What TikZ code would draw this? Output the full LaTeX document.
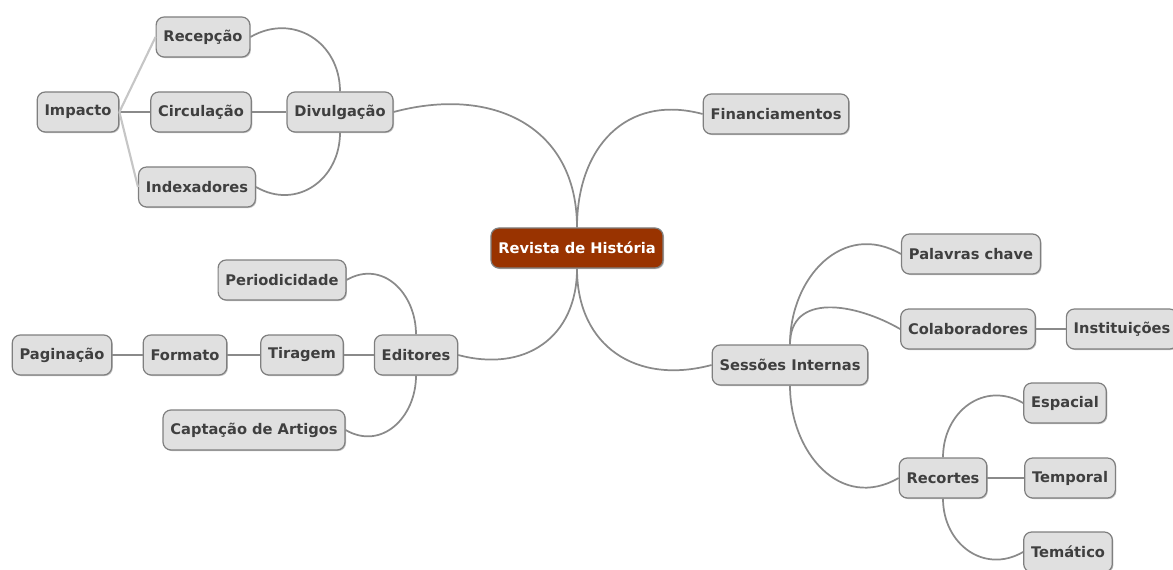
\documentclass[tikz,border=0pt]{standalone}
\usepackage{fontspec}
\setmainfont{DejaVu Sans}
\usetikzlibrary{%
  shadows,% wg. drop shadow
  positioning%
}
\definecolor{boxfill}{HTML}{E0E0E0}
\definecolor{boxline}{HTML}{7F7F7F}
\definecolor{linkgray}{HTML}{8A8A8A}
\definecolor{lightlink}{HTML}{C6C6C6}
\definecolor{rootred}{HTML}{993300}
\definecolor{txtgray}{HTML}{3F3F3F}

\begin{document}
\begin{tikzpicture}[
  x=0.75pt, y=0.75pt,
  font=\fontsize{11}{13}\selectfont\bfseries,
  topic/.style={draw=boxline, fill=boxfill, text=txtgray,
    rounded corners=6pt, line width=0.9pt,
    minimum height=30pt, inner xsep=5.5pt,
    drop shadow={shadow xshift=0.8pt, shadow yshift=-0.8pt,
      fill=black!40, opacity=0.6}},
  roottopic/.style={topic, fill=rootred, text=white},
  branch/.style={draw=linkgray, line width=1.3pt},
  sidebranch/.style={draw=lightlink, line width=1.6pt},
]

\useasboundingbox (0,0) rectangle (1173,-570);

% centre
\node[roottopic] (rev) at (577,-248) {Revista de História};

% upper left
\node[topic] (div) at (340,-112) {Divulgação};
\node[topic] (rec) at (203,-37)  {Recepção};
\node[topic] (cir) at (201,-112) {Circulação};
\node[topic] (ind) at (197,-187) {Indexadores};
\node[topic] (imp) at (78,-112)  {Impacto};

% upper right
\node[topic] (fin) at (776,-114) {Financiamentos};

% lower left
\node[topic] (edi) at (416,-355) {Editores};
\node[topic] (per) at (282,-280) {Periodicidade};
\node[topic] (tir) at (302,-355) {Tiragem};
\node[topic] (for) at (185,-355) {Formato};
\node[topic] (pag) at (62,-355)  {Paginação};
\node[topic] (cap) at (254,-430) {Captação de Artigos};

% lower right
\node[topic] (ses) at (790,-365)  {Sessões Internas};
\node[topic] (pal) at (971,-254)  {Palavras chave};
\node[topic] (col) at (968,-329)  {Colaboradores};
\node[topic] (ins) at (1122,-329) {Instituições};
\node[topic] (rct) at (943,-478)  {Recortes};
\node[topic] (esp) at (1065,-403) {Espacial};
\node[topic] (tem) at (1070,-478) {Temporal};
\node[topic] (tmt) at (1068,-552) {Temático};

% links from the centre
\draw[branch] (rev.north) to[out=90, in=15, looseness=1.2] (div.east);
\draw[branch] (rev.north) to[out=90, in=165, looseness=1.2] (fin.west);
\draw[branch] (rev.south) to[out=-90, in=-15, looseness=1.2] (edi.east);
\draw[branch] (rev.south) to[out=-90, in=-165, looseness=1.2] (ses.west);

% Divulgacao
\draw[branch] (div.north) to[out=90, in=30, looseness=1.2] (rec.east);
\draw[branch] (div.south) to[out=-90, in=-30, looseness=1.2] (ind.east);
\draw[branch] (div) -- (cir);
\draw[branch] (cir) -- (imp);
\draw[sidebranch] (imp.east) -- (rec.west);
\draw[sidebranch] (imp.east) -- (ind.west);

% Editores
\draw[branch] (edi.north) to[out=90, in=30, looseness=1.2] (per.east);
\draw[branch] (edi.south) to[out=-90, in=-30, looseness=1.2] (cap.east);
\draw[branch] (edi) -- (tir);
\draw[branch] (tir) -- (for);
\draw[branch] (for) -- (pag);

% Sessoes Internas
\draw[branch] (ses.north) to[out=90, in=150, looseness=1.2] (pal.west);
\draw[branch] (ses.north) to[out=90, in=150, looseness=1.2] (col.west);
\draw[branch] (ses.south) to[out=-90, in=-150, looseness=1.2] (rct.west);
\draw[branch] (col) -- (ins);

% Recortes
\draw[branch] (rct.north) to[out=90, in=150, looseness=1.2] (esp.west);
\draw[branch] (rct.south) to[out=-90, in=-150, looseness=1.2] (tmt.west);
\draw[branch] (rct) -- (tem);

\end{tikzpicture}
\end{document}
